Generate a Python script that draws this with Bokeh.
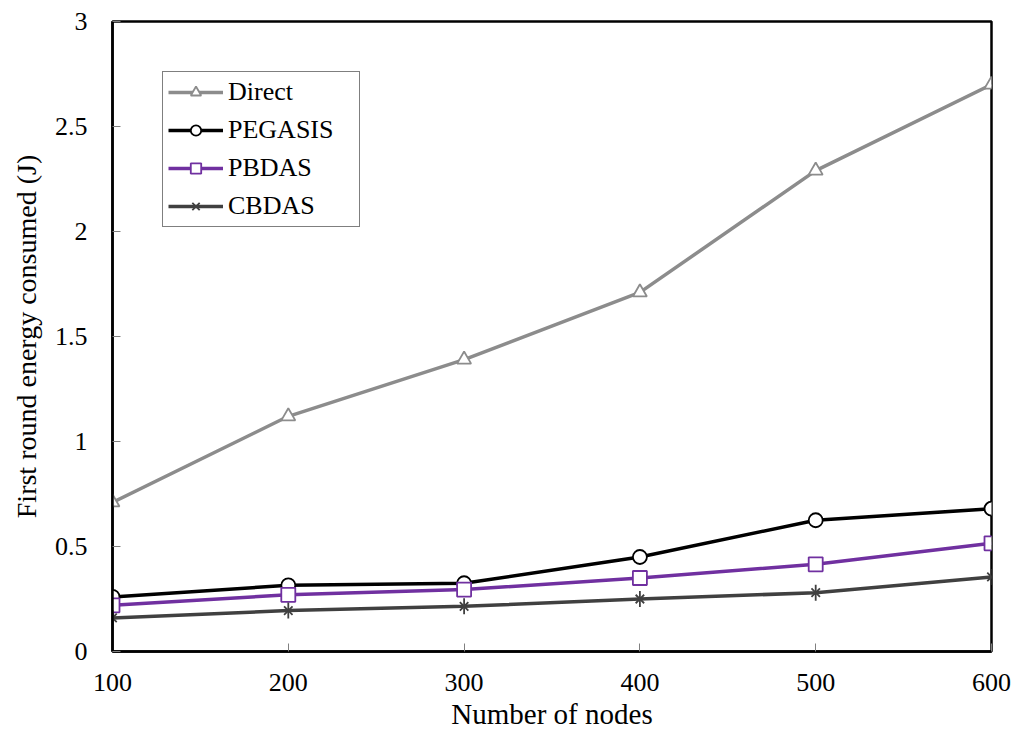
import math
from bokeh.plotting import figure
from bokeh.models import FixedTicker, Range1d, Legend
from bokeh.embed import file_html
from bokeh.resources import INLINE

nodes = [100, 200, 300, 400, 500, 600]
direct = [0.71, 1.12, 1.39, 1.71, 2.29, 2.70]
pegasis = [0.26, 0.315, 0.325, 0.45, 0.625, 0.68]
pbdas = [0.22, 0.27, 0.295, 0.35, 0.415, 0.515]
cbdas = [0.16, 0.195, 0.215, 0.25, 0.28, 0.355]

x_ticks = [100, 200, 300, 400, 500, 600]
x_tick_labels = ["100", "200", "300", "400", "500", "600"]
y_ticks = [0, 0.5, 1, 1.5, 2, 2.5, 3]
y_tick_labels = ["0", "0.5", "1", "1.5", "2", "2.5", "3"]

FONT = "Liberation Serif"

p = figure(width=1016, height=741, output_backend="svg", toolbar_location=None,
           x_range=Range1d(100, 600), y_range=Range1d(0, 3),
           min_border_left=112, min_border_right=25, min_border_top=21, min_border_bottom=90)
p.grid.visible = False
p.outline_line_color = "black"
p.outline_line_width = 2.5
p.background_fill_color = "white"
p.border_fill_color = "white"

series = [
    ("Direct", direct, "#8c8c8c", "triangle"),
    ("PEGASIS", pegasis, "#000000", "circle"),
    ("PBDAS", pbdas, "#7030a0", "square"),
    ("CBDAS", cbdas, "#404040", "star"),
]
items = []
for name, ys, col, mk in series:
    rs = [p.line(nodes, ys, line_color=col, line_width=3.5)]
    if mk == "star":
        rs.append(p.scatter(nodes, ys, marker="x", size=12, line_color=col, line_width=1.8))
        rs.append(p.scatter(nodes, ys, marker="dash", size=16, angle=math.pi / 2,
                            line_color=col, line_width=1.8))
    else:
        rs.append(p.scatter(nodes, ys, marker=mk, size=14, line_color=col,
                            fill_color="white", line_width=1.8))
    items.append((name, rs))

legend = Legend(items=items, location=(50, 424))
legend.label_text_font = FONT
legend.label_text_font_size = "26px"
legend.label_text_color = "black"
legend.border_line_color = "black"
legend.border_line_width = 1.5
legend.background_fill_color = "white"
legend.background_fill_alpha = 1
legend.glyph_width = 55
legend.glyph_height = 26
legend.label_height = 26
legend.label_width = 126
legend.label_standoff = 5
legend.spacing = 8
legend.padding = 5
legend.margin = 0
p.add_layout(legend)

for ax in (p.xaxis[0], p.yaxis[0]):
    ax.axis_line_color = "black"
    ax.axis_line_width = 2.5
    ax.major_tick_in = 8
    ax.major_tick_out = 0
    ax.major_tick_line_color = "#808080"
    ax.major_tick_line_width = 1
    ax.minor_tick_line_color = None
    ax.major_label_text_font = FONT
    ax.major_label_text_font_size = "26px"
    ax.major_label_text_color = "black"
    ax.axis_label_text_font = FONT
    ax.axis_label_text_font_style = "normal"
    ax.axis_label_text_color = "black"

p.xaxis[0].axis_label_text_font_size = "29px"
p.yaxis[0].axis_label_text_font_size = "28px"
p.xaxis[0].ticker = FixedTicker(ticks=x_ticks)
p.xaxis[0].major_label_overrides = {t: l for t, l in zip(x_ticks, x_tick_labels)}
p.yaxis[0].ticker = FixedTicker(ticks=y_ticks)
p.yaxis[0].major_label_overrides = {t: l for t, l in zip(y_ticks, y_tick_labels)}
p.xaxis[0].major_label_standoff = 22
p.yaxis[0].major_label_standoff = 25
p.xaxis[0].axis_label = "Number of nodes"
p.yaxis[0].axis_label = "First round energy consumed (J)"
p.xaxis[0].axis_label_standoff = 4
p.yaxis[0].axis_label_standoff = 10

open("out.html", "w").write(file_html(p, INLINE))
